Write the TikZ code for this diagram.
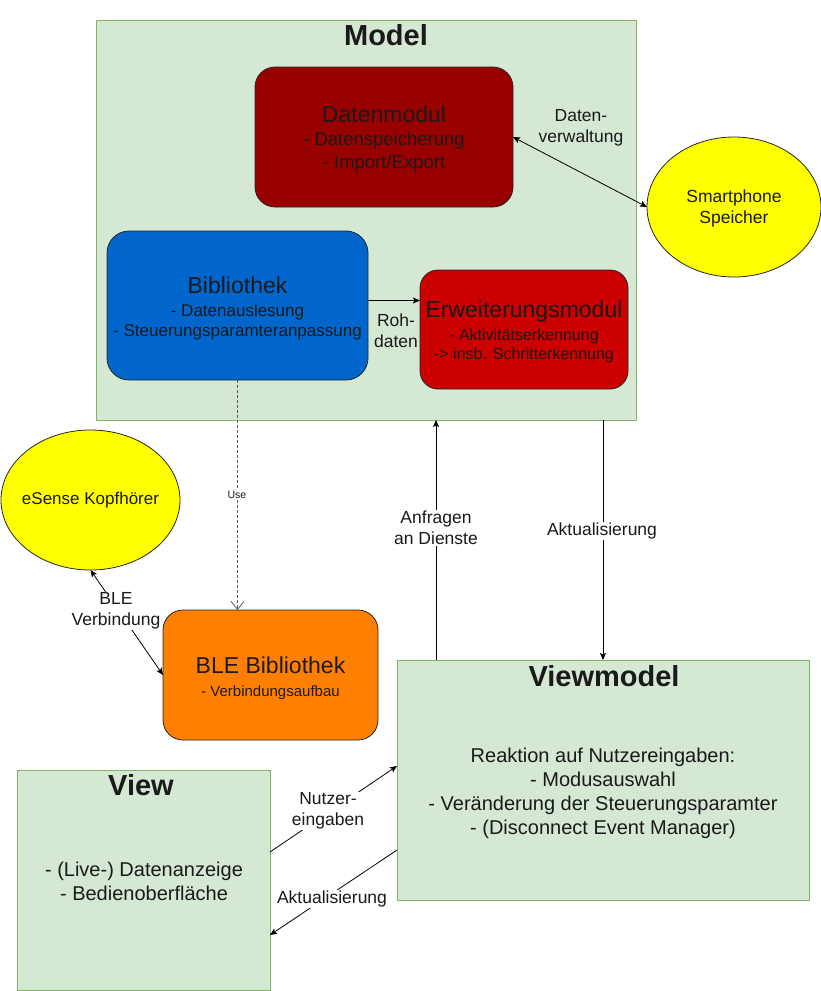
\documentclass[tikz,border=0pt]{standalone}
\usepackage{fontspec}
\setmainfont{Liberation Sans}
\usetikzlibrary{arrows.meta,shapes.geometric}
\definecolor{gfill}{HTML}{D5E8D4}
\definecolor{gline}{HTML}{82B366}
\definecolor{dmred}{HTML}{990000}
\definecolor{bibblue}{HTML}{0066CC}
\definecolor{erwred}{HTML}{CC0000}
\definecolor{bleor}{HTML}{FF8000}
\definecolor{ylw}{HTML}{FFFF00}
\definecolor{txt}{HTML}{1A1A1A}
\newcommand\bigtitle[1]{{\fontsize{23}{26}\selectfont #1}}
\begin{document}
\begin{tikzpicture}[x=1pt,y=-1pt,
  every node/.style={inner sep=0pt,outer sep=0pt,text=txt},
  greenbox/.style={draw=gline,fill=gfill,line width=0.9pt,rectangle},
  rbox/.style={draw=black!85,line width=0.8pt,rectangle,rounded corners=20pt},
  boxtext/.style={align=center},
  ell/.style={draw=black!85,fill=ylw,line width=0.8pt,ellipse},
  conn/.style={line width=0.8pt,draw=black},
  arr/.style={conn,-{Stealth[length=7pt,width=6pt,inset=1.5pt]}},
  biarr/.style={conn,{Stealth[length=7pt,width=6pt,inset=1.5pt]}-{Stealth[length=7pt,width=6pt,inset=1.5pt]}},
  lbl/.style={align=center,font=\fontsize{17.5}{21}\selectfont},
  wlbl/.style={lbl,fill=white,inner sep=1pt},
  title/.style={font=\fontsize{29}{33}\selectfont\bfseries}
]
\useasboundingbox (0,0) rectangle (821,991);

% containers
\node[greenbox,minimum width=540,minimum height=400] (model) at (366,220) {};
\node[title] (modeltitle) at (386,35) {Model};
\node[greenbox,minimum width=412,minimum height=240] (vm) at (603,780) {};
\node[title] (vmtitle) at (604,676) {Viewmodel};
\node[greenbox,minimum width=253,minimum height=220] (view) at (143.5,880) {};
\node[title] (viewtitle) at (141,785) {View};

% inner boxes
\node[rbox,fill=dmred,minimum width=258,minimum height=140] (dm) at (384,137) {};
\node[boxtext,font=\fontsize{18.5}{23}\selectfont] (dmtext) at ([yshift=-2.5pt]dm.center)
  {\bigtitle{Datenmodul}\\- Datenspeicherung\\- Import/Export};
\node[rbox,fill=bibblue,minimum width=261,minimum height=149,rounded corners=22pt] (bib) at (237.5,305.5) {};
\node[boxtext,font=\fontsize{17}{20}\selectfont] (bibtext) at ([yshift=-3pt]bib.center)
  {\bigtitle{Bibliothek}\\[3pt]- Datenauslesung\\- Steuerungsparamteranpassung};
\node[rbox,fill=erwred,minimum width=208,minimum height=119,rounded corners=18pt] (erw) at (524,329.5) {};
\node[boxtext,font=\fontsize{16}{19}\selectfont] (erwtext) at ([yshift=-2pt]erw.center)
  {\bigtitle{Erweiterungsmodul}\\[4pt]- Aktivitätserkennung\\-> insb. Schritterkennung};
\node[rbox,fill=bleor,minimum width=215,minimum height=130] (ble) at (270.5,675) {};
\node[boxtext,font=\fontsize{15}{18}\selectfont] (bletext) at ([yshift=-3pt]ble.center)
  {\bigtitle{BLE Bibliothek}\\[5pt]- Verbindungsaufbau};

% ellipses
\node[ell,minimum width=174,minimum height=140] (sp) at (734,207) {};
\node[lbl] (sptext) at ([yshift=-1pt]sp.center) {Smartphone\\Speicher};
\node[ell,minimum width=179,minimum height=140] (es) at (90.5,500) {};
\node[lbl,font=\fontsize{17}{21}\selectfont] (estext) at (es.center) {eSense Kopfhörer};

% body texts
\node[lbl,font=\fontsize{20}{24}\selectfont] (vmtext) at (603,793.5)
  {Reaktion auf Nutzereingaben:\\- Modusauswahl\\- Veränderung der Steuerungsparamter\\- (Disconnect Event Manager)};
\node[lbl,font=\fontsize{20}{24}\selectfont] (viewtext) at (144,881)
  {- (Live-) Datenanzeige\\- Bedienoberfläche};

% connectors
\draw[biarr] (dm.east) -- (sp.west);
\node[lbl] (dvlbl) at (581,128) {Daten-\\verwaltung};

\draw[arr] ([yshift=5pt]bib.east) -- ([yshift=5pt]bib.east -| erw.west);
\node[lbl] (rohlbl) at (396,331) {Roh-\\daten};

\draw[conn,draw=black!65,dash pattern=on 3pt off 2pt,-{Straight Barb[length=8pt,width=13pt]}] (bib.south) -- (bib.south |- ble.north);
\node[fill=white,inner sep=1pt,font=\fontsize{10.5}{12}\selectfont] (uselbl) at (237,495) {Use};

\draw[biarr] (ble.west) -- (es.south);
\node[wlbl] (blelbl) at (116,611) {BLE\\Verbindung};

\draw[arr] ([xshift=-167pt]vm.north) -- ([xshift=-167pt]vm.north |- model.south);
\node[wlbl] (anflbl) at (436,528) {Anfragen\\an Dienste};

\draw[arr] (vm.north |- model.south) -- (vm.north);
\node[wlbl] (akt1lbl) at (602,531) {Aktualisierung};

\draw[arr] ([yshift=28pt]view.east) -- ([yshift=14pt]vm.west);
\node[wlbl] (nutzlbl) at (328,811) {Nutzer-\\eingaben};

\draw[arr] ([yshift=-70pt]vm.west) -- ([yshift=-55pt]view.east);
\node[wlbl] (akt2lbl) at (332,899) {Aktualisierung};
\end{tikzpicture}
\end{document}
